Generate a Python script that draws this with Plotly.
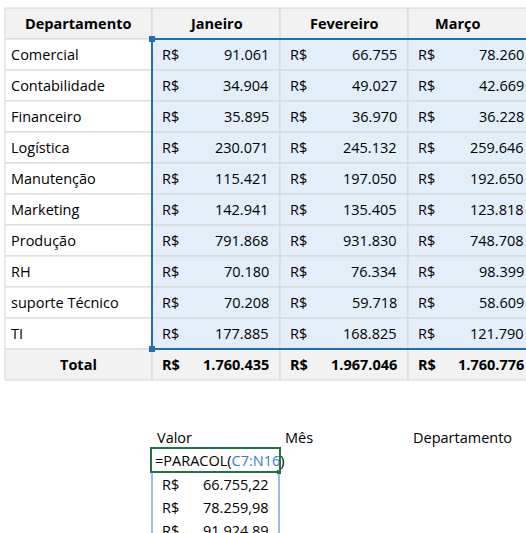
import plotly.graph_objects as go

departamentos = ["Comercial", "Contabilidade", "Financeiro", "Logística", "Manutenção",
                 "Marketing", "Produção", "RH", "suporte Técnico", "TI"]
meses = ["Janeiro", "Fevereiro", "Março"]
janeiro = ["91.061", "34.904", "35.895", "230.071", "115.421", "142.941", "791.868", "70.180", "70.208", "177.885"]
fevereiro = ["66.755", "49.027", "36.970", "245.132", "197.050", "135.405", "931.830", "76.334", "59.718", "168.825"]
marco = ["78.260", "42.669", "36.228", "259.646", "192.650", "123.818", "748.708", "98.399", "58.609", "121.790"]
totais = ["1.760.435", "1.967.046", "1.760.776"]
cabecalho_baixo = ["Valor", "Mês", "Departamento"]
valores_lista = ["66.755,22", "78.259,98", "91.924,89"]

FONT = "Open Sans"
fig = go.Figure()
shapes, ann = [], []

col_x = [5, 152, 280, 408, 536]
val_right = [271, 399, 526]
row_h = 31
top = 8

def rect(x0, y0, x1, y1, fill, line="#d4d4d4", w=1):
    shapes.append(dict(type="rect", x0=x0, y0=y0, x1=x1, y1=y1, fillcolor=fill,
                       line=dict(color=line, width=w), layer="below"))

def text(x, y, s, anchor="left", bold=False, color="black", size=14.5):
    ann.append(dict(x=x, y=y, text=f"<b>{s}</b>" if bold else s, showarrow=False,
                    xanchor=anchor, yanchor="middle", font=dict(family=FONT, size=size, color=color)))

# header row
for c in range(4):
    rect(col_x[c], top, col_x[c + 1], top + row_h, "#f2f2f2")
text((col_x[0] + col_x[1]) / 2, top + row_h / 2, "Departamento", "center", True)
for i, m in enumerate(meses):
    text((col_x[i + 1] + min(col_x[i + 2], 526)) / 2 - (10 if i == 2 else 0), top + row_h / 2, m, "center", True)

cols = [janeiro, fevereiro, marco]
for r, dep in enumerate(departamentos):
    y0 = top + row_h * (r + 1)
    rect(col_x[0], y0, col_x[1], y0 + row_h, "white")
    text(col_x[0] + 4, y0 + row_h / 2, dep)
    for c in range(3):
        rect(col_x[c + 1], y0, col_x[c + 2], y0 + row_h, "#e4eef8")
        text(col_x[c + 1] + 8, y0 + row_h / 2, "R$")
        text(val_right[c], y0 + row_h / 2, cols[c][r], "right")

# total row
yt = top + row_h * 11
for c in range(4):
    rect(col_x[c], yt, col_x[c + 1], yt + row_h, "#f2f2f2")
text((col_x[0] + col_x[1]) / 2, yt + row_h / 2, "Total", "center", True)
for c in range(3):
    text(col_x[c + 1] + 8, yt + row_h / 2, "R$", bold=True)
    text(val_right[c], yt + row_h / 2, totais[c], "right", True)

# selection border
sel = "#1f6fb4"
shapes.append(dict(type="line", x0=152, y0=top + row_h, x1=152, y1=yt, line=dict(color=sel, width=2)))
shapes.append(dict(type="line", x0=152, y0=top + row_h, x1=526, y1=top + row_h, line=dict(color=sel, width=2)))
shapes.append(dict(type="line", x0=152, y0=yt, x1=526, y1=yt, line=dict(color=sel, width=2)))
shapes.append(dict(type="rect", x0=149, y0=top + row_h - 3, x1=155, y1=top + row_h + 3, fillcolor=sel, line=dict(width=0)))
shapes.append(dict(type="rect", x0=149, y0=yt - 3, x1=155, y1=yt + 3, fillcolor=sel, line=dict(width=0)))

# lower area
for i, s in enumerate(cabecalho_baixo):
    text(155 + 128 * i, 437, s)
shapes.append(dict(type="rect", x0=151, y0=448, x1=280, y1=472, line=dict(color="#217346", width=2)))
text(153, 460, "=PARACOL(<span style='color:#2e7fd0'>C7:N16</span>)")
shapes.append(dict(type="line", x0=152, y0=472, x1=152, y1=540, line=dict(color="#2e7fd0", width=1)))
shapes.append(dict(type="line", x0=279, y0=472, x1=279, y1=540, line=dict(color="#2e7fd0", width=1)))
shapes.append(dict(type="rect", x0=277, y0=470, x1=281, y1=474, fillcolor="#217346", line=dict(width=0)))
for i, v in enumerate(valores_lista):
    y = 484 + 23 * i
    text(160, y, "R$")
    text(271, y, v, "right")

fig.update_layout(width=526, height=533, margin=dict(l=0, r=0, t=0, b=0),
                  plot_bgcolor="white", paper_bgcolor="white", shapes=shapes, annotations=ann,
                  xaxis=dict(range=[0, 526], visible=False, fixedrange=True),
                  yaxis=dict(range=[533, 0], visible=False, fixedrange=True),
                  showlegend=False)
fig.write_html("out.html", config={"displayModeBar": False},
               post_script="document.body.style.margin='0';document.body.style.overflow='hidden';")
